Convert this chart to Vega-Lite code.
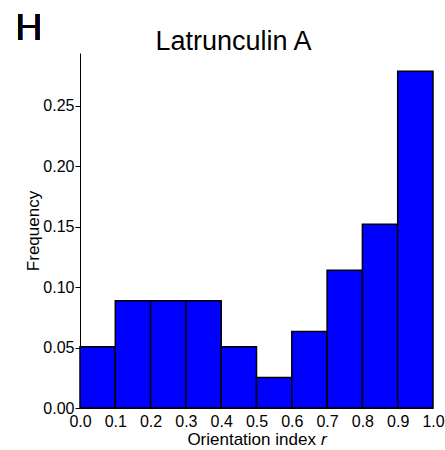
{
  "$schema": "https://vega.github.io/schema/vega-lite/v6.json",
  "autosize": "none",
  "width": 353,
  "height": 355,
  "padding": {"left": 80, "top": 53, "right": 12, "bottom": 42},
  "background": "white",
  "config": {
    "view": {"stroke": null},
    "font": "Liberation Sans",
    "axis": {"grid": false, "domainColor": "black", "tickColor": "black", "labelColor": "black", "titleColor": "black", "labelFont": "Liberation Sans", "titleFont": "Liberation Sans", "labelFontSize": 16, "titleFontSize": 17, "titleFontWeight": "normal", "labelFontWeight": "normal"}
  },
  "title": {"text": "Latrunculin A", "font": "Liberation Sans", "fontSize": 27, "fontWeight": "normal", "color": "black", "dx": -23, "offset": -67, "baseline": "alphabetic"},
  "data": {"values": [
    {"bin_start": 0.0, "bin_end": 0.1, "frequency": 0.0506},
    {"bin_start": 0.1, "bin_end": 0.2, "frequency": 0.0886},
    {"bin_start": 0.2, "bin_end": 0.3, "frequency": 0.0886},
    {"bin_start": 0.3, "bin_end": 0.4, "frequency": 0.0886},
    {"bin_start": 0.4, "bin_end": 0.5, "frequency": 0.0506},
    {"bin_start": 0.5, "bin_end": 0.6, "frequency": 0.0253},
    {"bin_start": 0.6, "bin_end": 0.7, "frequency": 0.0633},
    {"bin_start": 0.7, "bin_end": 0.8, "frequency": 0.1139},
    {"bin_start": 0.8, "bin_end": 0.9, "frequency": 0.1519},
    {"bin_start": 0.9, "bin_end": 1.0, "frequency": 0.2785}
  ]},
  "layer": [
    {
      "mark": {"type": "rect", "fill": "#0000FF", "stroke": "black", "strokeWidth": 1.5},
      "encoding": {
        "x": {"field": "bin_start", "type": "quantitative", "scale": {"domain": [0, 1], "nice": false, "zero": false},
          "axis": {"values": [0, 0.1, 0.2, 0.3, 0.4, 0.5, 0.6, 0.7, 0.8, 0.9, 1.0], "format": ".1f", "ticks": false, "labelPadding": 5, "labelFlush": false, "labelOverlap": false, "title": "Orientation index 𝑟", "titlePadding": 2}},
        "x2": {"field": "bin_end"},
        "y": {"field": "frequency", "type": "quantitative", "scale": {"domain": [0, 0.2935], "nice": false},
          "axis": {"values": [0, 0.05, 0.1, 0.15, 0.2, 0.25], "format": ".2f", "tickSize": 5, "labelPadding": 1, "labelOverlap": false, "title": "Frequency", "titlePadding": 0}},
        "y2": {"datum": 0}
      }
    },
    {
      "mark": {"type": "text", "text": "H", "fontSize": 37, "font": "Liberation Sans", "fontWeight": "normal", "align": "left", "baseline": "alphabetic", "color": "black"},
      "encoding": {
        "x": {"datum": -0.1827, "type": "quantitative",
          "axis": {"values": [0, 0.1, 0.2, 0.3, 0.4, 0.5, 0.6, 0.7, 0.8, 0.9, 1.0], "format": ".1f", "ticks": false, "labelPadding": 5, "labelFlush": false, "labelOverlap": false, "title": "Orientation index 𝑟", "titlePadding": 2}},
        "y": {"datum": 0.3044, "type": "quantitative",
          "axis": {"values": [0, 0.05, 0.1, 0.15, 0.2, 0.25], "format": ".2f", "tickSize": 5, "labelPadding": 1, "labelOverlap": false, "title": "Frequency", "titlePadding": 0}}
      }
    }
  ]
}
